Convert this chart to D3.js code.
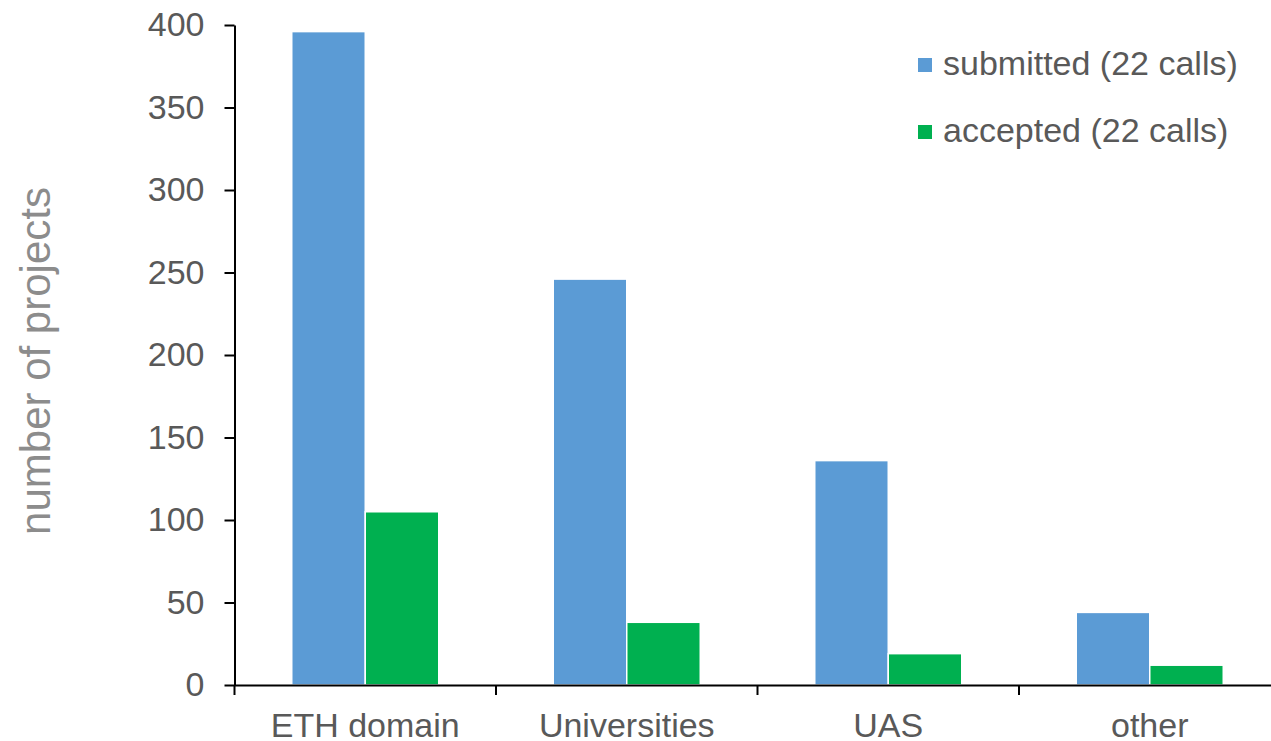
<!DOCTYPE html>
<html>
<head>
<meta charset="utf-8">
<script src="https://cdn.jsdelivr.net/npm/d3@7"></script>
<style>
  html, body { margin: 0; padding: 0; background: #fff; }
  svg { display: block; font-family: "Liberation Sans", Arial, sans-serif; }
</style>
</head>
<body>
<svg id="chart" width="1271" height="741"></svg>
<script>
const categories = ["ETH domain", "Universities", "UAS", "other"];
const seriesNames = ["submitted (22 calls)", "accepted (22 calls)"];
const submitted = [396, 246, 136, 44];
const accepted = [105, 38, 19, 12];
const yTicks = [0, 50, 100, 150, 200, 250, 300, 350, 400];
const colors = ["#5B9BD5", "#00B050"];

(function () {
const svg = d3.select("#chart");
const mLeft = 234.5, mRight = 1280.5, mTop = 25, mBottom = 685;
const fs = 34;

const x0 = d3.scaleBand().domain(categories).range([mLeft, mRight]).padding(0);
const step = x0.step();
const groupW = 147;
const x1 = d3.scaleBand().domain(seriesNames)
  .range([(step - groupW) / 2, (step + groupW) / 2]).padding(0);
const y = d3.scaleLinear().domain([0, 400]).range([mBottom, mTop]);

const values = [submitted, accepted];

// bars
seriesNames.forEach((s, si) => {
  svg.append("g").selectAll("rect")
    .data(categories.map((c, i) => ({ c, v: values[si][i] })))
    .join("rect")
    .attr("x", d => x0(d.c) + x1(s))
    .attr("y", d => y(d.v))
    .attr("width", x1.bandwidth())
    .attr("height", d => y(0) - y(d.v))
    .attr("fill", colors[si])
    .attr("stroke", "#fff")
    .attr("stroke-width", 1.5);
});

// y axis
const yAxis = svg.append("g")
  .attr("transform", `translate(${mLeft},0)`)
  .call(d3.axisLeft(y).tickValues(yTicks).tickSize(10).tickSizeOuter(0).tickPadding(20));
yAxis.select(".domain").attr("stroke", "#000").attr("stroke-width", 2);
yAxis.selectAll(".tick line").attr("stroke", "#000").attr("stroke-width", 2);
yAxis.selectAll(".tick text").attr("font-size", fs).attr("fill", "#595959")
  .attr("font-family", "Liberation Sans, Arial, sans-serif");

// x axis
const xAxis = svg.append("g")
  .attr("transform", `translate(0,${mBottom})`)
  .call(d3.axisBottom(x0).tickSize(0).tickSizeOuter(0).tickPadding(27.5));
xAxis.select(".domain").attr("stroke", "#000").attr("stroke-width", 2);
xAxis.selectAll(".tick text").attr("font-size", fs).attr("fill", "#595959")
  .attr("font-family", "Liberation Sans, Arial, sans-serif");
// category boundary ticks
svg.append("g").selectAll("line")
  .data(categories)
  .join("line")
  .attr("x1", d => x0(d)).attr("x2", d => x0(d))
  .attr("y1", mBottom).attr("y2", mBottom + 10)
  .attr("stroke", "#000").attr("stroke-width", 2);

// y axis title
svg.append("text")
  .attr("transform", `translate(50,361) rotate(-90)`)
  .attr("text-anchor", "middle")
  .attr("font-size", 42)
  .attr("fill", "#8c8c8c")
  .text("number of projects");

// legend
const legend = svg.append("g");
seriesNames.forEach((s, i) => {
  const g = legend.append("g").attr("transform", `translate(918,${75 + i * 67})`);
  g.append("rect").attr("x", 0).attr("y", -17).attr("width", 14).attr("height", 14).attr("fill", colors[i]);
  g.append("text").attr("x", 25).attr("y", 0).attr("font-size", fs).attr("fill", "#595959").text(s);
});
})();
</script>
</body>
</html>
